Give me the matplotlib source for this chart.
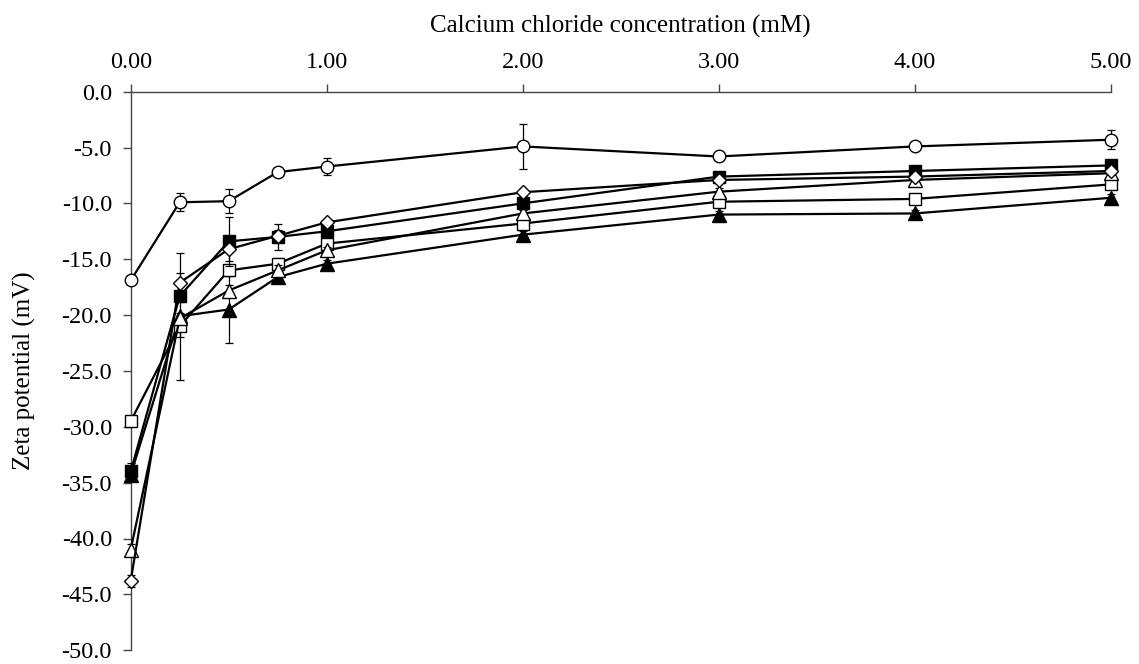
import matplotlib
matplotlib.use("Agg")
import matplotlib.pyplot as plt
from matplotlib.ticker import FormatStrFormatter, FixedLocator

plt.rcParams['font.family'] = ['Liberation Serif', 'DejaVu Serif']

conc = [0, 0.25, 0.5, 0.75, 1, 2, 3, 4, 5]

circle = [-16.9, -9.9, -9.8, -7.2, -6.7, -4.9, -5.8, -4.9, -4.3]
circle_err = [0.3, 0.8, 1.1, 0.3, 0.8, 2.0, 0.3, 0.3, 0.85]

filled_sq = [-34.0, -18.3, -13.4, -13.0, -12.5, -10.0, -7.6, -7.1, -6.6]
filled_sq_err = [0.8, 0.5, 2.2, 1.2, 0.5, 0.5, 0.3, 0.3, 0.3]

diamond = [-43.8, -17.1, -14.1, -12.9, -11.7, -9.0, -7.9, -7.6, -7.1]
diamond_err = [0.5, 0.9, 1.1, 0.5, 0.3, 0.3, 0.3, 0.3, 0.3]

open_sq = [-29.5, -21.0, -16.0, -15.4, -13.6, -11.8, -9.85, -9.6, -8.3]
open_sq_err = [0.3, 1.0, 0.5, 0.5, 0.3, 0.3, 0.3, 0.3, 0.3]

open_tri = [-41.0, -20.3, -17.8, -16.0, -14.2, -10.9, -8.95, -7.9, -7.3]
open_tri_err = [0.5, 0.5, 0.5, 0.5, 0.3, 0.3, 0.3, 0.3, 0.3]

filled_tri = [-34.3, -20.1, -19.5, -16.6, -15.4, -12.8, -11.0, -10.9, -9.5]
filled_tri_err = [0.5, 5.7, 3.0, 0.4, 0.3, 0.3, 0.3, 0.3, 0.3]

x_ticks = [0, 1, 2, 3, 4, 5]
y_ticks = [0, -5, -10, -15, -20, -25, -30, -35, -40, -45, -50]

fig = plt.figure(figsize=(11.39, 6.64), dpi=100)
ax = fig.add_axes([130.7 / 1139, 1 - 650.2 / 664, (1110.7 - 130.7) / 1139, (650.2 - 91.7) / 664])

series = [
    (filled_tri, filled_tri_err, '^', 'black', 9.5),
    (open_sq, open_sq_err, 's', 'white', 9),
    (open_tri, open_tri_err, '^', 'white', 9.5),
    (filled_sq, filled_sq_err, 's', 'black', 9),
    (diamond, diamond_err, 'D', 'white', 6.8),
    (circle, circle_err, 'o', 'white', 9),
]

z = 3
for vals, errs, mk, fc, ms in series:
    ax.errorbar(conc, vals, yerr=errs, fmt='none', ecolor='black',
                elinewidth=0.9, capsize=2.6, capthick=0.9, zorder=z, clip_on=False)
    ax.plot(conc, vals, color='black', linewidth=1.6, marker=mk, markersize=ms,
            markerfacecolor=fc, markeredgecolor='black', markeredgewidth=1.0,
            zorder=z + 0.5, clip_on=False)
    z += 1

ax.set_xlim(0, 5)
ax.set_ylim(-50, 0)
ax.xaxis.tick_top()
ax.xaxis.set_label_position('top')
ax.xaxis.set_major_locator(FixedLocator(x_ticks))
ax.yaxis.set_major_locator(FixedLocator(y_ticks))
ax.xaxis.set_major_formatter(FormatStrFormatter('%.2f'))
ax.yaxis.set_major_formatter(FormatStrFormatter('%.1f'))

for s in ['right', 'bottom']:
    ax.spines[s].set_visible(False)
for s in ['top', 'left']:
    ax.spines[s].set_linewidth(1.0)
    ax.spines[s].set_color('#444444')

ax.tick_params(axis='x', direction='out', length=5.5, width=1.0, color='#444444',
               labelsize=17.5, pad=8)
ax.tick_params(axis='y', direction='out', length=5.5, width=1.0, color='#444444',
               labelsize=17.5, pad=8)

ax.set_xlabel('Calcium chloride concentration (mM)', fontsize=18, labelpad=14)
ax.set_ylabel('Zeta potential (mV)', fontsize=18, labelpad=18)

fig.savefig('out.png', dpi=100)
